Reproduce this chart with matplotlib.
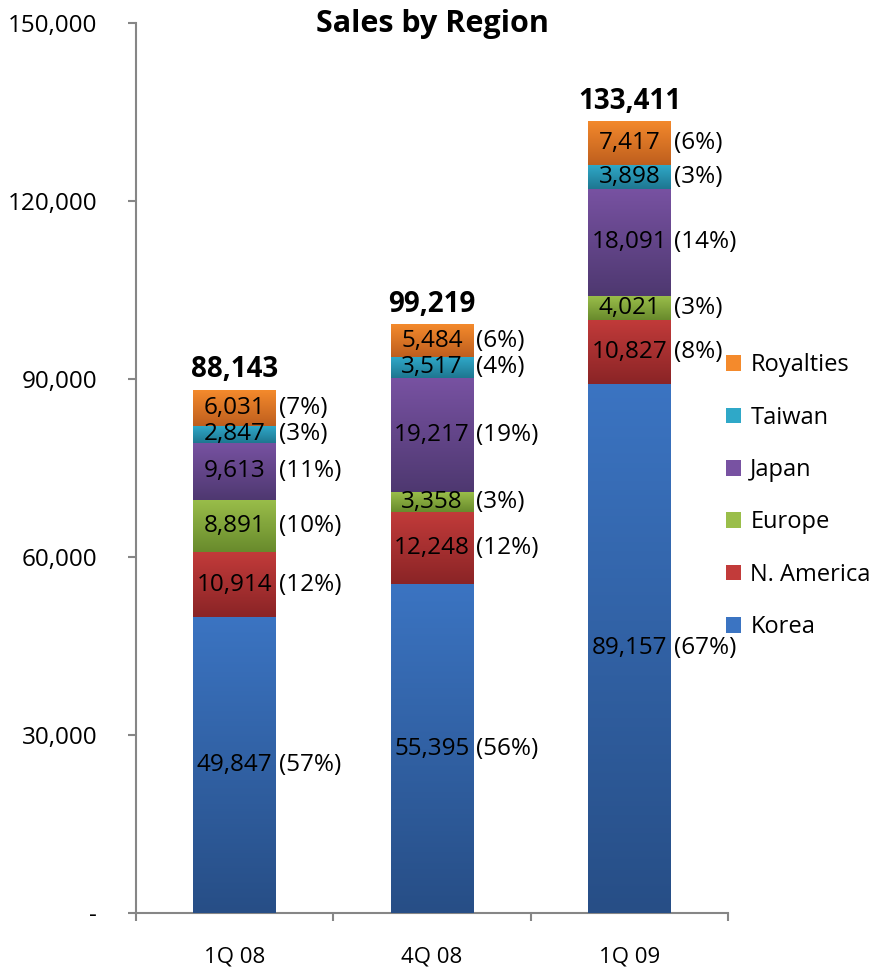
import numpy as np
import matplotlib
matplotlib.use("Agg")
import matplotlib.pyplot as plt
from matplotlib.colors import LinearSegmentedColormap
from matplotlib.patches import Patch

plt.rcParams['font.family'] = ['Open Sans', 'DejaVu Sans']

periods = ["1Q 08", "4Q 08", "1Q 09"]
regions = ["Korea", "N. America", "Europe", "Japan", "Taiwan", "Royalties"]
sales = {
    "Korea":      [49847, 55395, 89157],
    "N. America": [10914, 12248, 10827],
    "Europe":     [8891, 3358, 4021],
    "Japan":      [9613, 19217, 18091],
    "Taiwan":     [2847, 3517, 3898],
    "Royalties":  [6031, 5484, 7417],
}
shares = {
    "Korea":      ["(57%)", "(56%)", "(67%)"],
    "N. America": ["(12%)", "(12%)", "(8%)"],
    "Europe":     ["(10%)", "(3%)", "(3%)"],
    "Japan":      ["(11%)", "(19%)", "(14%)"],
    "Taiwan":     ["(3%)", "(4%)", "(3%)"],
    "Royalties":  ["(7%)", "(6%)", "(6%)"],
}
totals = [88143, 99219, 133411]
yticks = [0, 30000, 60000, 90000, 120000, 150000]

# (top colour, bottom colour) for the gradient of each segment
colors = {
    "Korea":      ("#3B74C2", "#274E86"),
    "N. America": ("#C23B3A", "#8A2426"),
    "Europe":     ("#9ABE4A", "#688A2C"),
    "Japan":      ("#7852A2", "#4E3870"),
    "Taiwan":     ("#2FA8C8", "#1E7690"),
    "Royalties":  ("#F48A2C", "#BE5E1E"),
}

fig = plt.figure(figsize=(8.72, 9.73), dpi=100)
ax = fig.add_axes([0.156, 0.0617, 0.679, 0.9147])

x = np.arange(len(periods))
width = 0.42
bottom = np.zeros(len(periods))
grad = np.linspace(0, 1, 256).reshape(-1, 1)

for reg in regions:
    vals = np.array(sales[reg])
    top_c, bot_c = colors[reg]
    bars = ax.bar(x, vals, width, bottom=bottom, color=top_c, linewidth=0, zorder=2)
    cmap = LinearSegmentedColormap.from_list(reg, [bot_c, top_c])
    for b, v, s in zip(bars, vals, shares[reg]):
        x0, y0, w, h = b.get_x(), b.get_y(), b.get_width(), b.get_height()
        im = ax.imshow(grad, cmap=cmap, extent=(x0, x0 + w, y0, y0 + h),
                       origin='lower', aspect='auto', zorder=3)
        im.set_clip_path(b)
        ax.text(x0 + w / 2, y0 + h / 2, f"{v:,}", ha='center', va='center',
                fontsize=17.5, zorder=4)
        ax.annotate(s, (x0 + w, y0 + h / 2), xytext=(2, 0), textcoords='offset points',
                    ha='left', va='center', fontsize=17.5, zorder=4)
    bottom += vals

for xi, t in zip(x, totals):
    ax.annotate(f"{t:,}", (xi, t), xytext=(0, 4), textcoords='offset points',
                ha='center', va='bottom', fontsize=20, fontweight='bold')

ax.set_xlim(-0.5, len(periods) - 0.5)
ax.set_ylim(0, 150000)
ax.set_yticks(yticks)
ax.set_yticklabels(["-"] + [f"{t:,}" for t in yticks[1:]], fontsize=17.5)
ax.set_xticks(x)
ax.set_xticklabels(periods, fontsize=16)
ax.set_xticks(np.arange(len(periods) + 1) - 0.5, minor=True)
ax.tick_params(axis='x', which='major', length=0, pad=24)
ax.tick_params(axis='x', which='minor', length=6, width=1.5, color='#868686', direction='out')
ax.tick_params(axis='y', length=6, width=1.5, color='#868686', direction='out', pad=22)

for side in ['top', 'right']:
    ax.spines[side].set_visible(False)
for side in ['left', 'bottom']:
    ax.spines[side].set_color('#868686')
    ax.spines[side].set_linewidth(1.5)

ax.text(0.5, 0.999, "Sales by Region", transform=ax.transAxes, ha='center', va='center',
        fontsize=22, fontweight='bold')

handles = [Patch(facecolor=colors[r][0], label=r) for r in reversed(regions)]
fig.legend(handles=handles, loc='center left', bbox_to_anchor=(0.832, 0.490),
           bbox_transform=fig.transFigure, frameon=False, fontsize=17,
           handlelength=0.65, handleheight=0.65, handletextpad=0.4,
           labelspacing=1.2, borderpad=0, borderaxespad=0)

fig.savefig("out.png", dpi=100)
